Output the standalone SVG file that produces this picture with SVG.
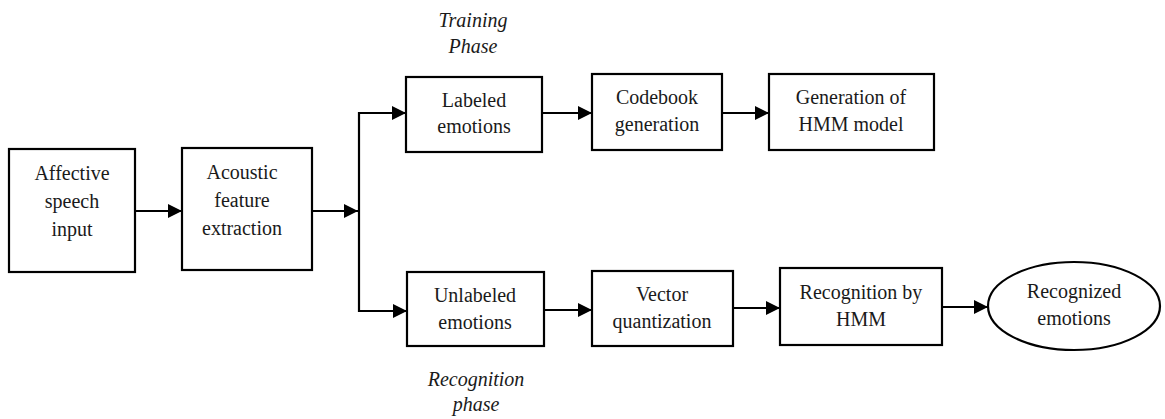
<svg xmlns="http://www.w3.org/2000/svg" width="1165" height="419" viewBox="0 0 1165 419" font-family="Liberation Serif, Tinos, Times New Roman, Times, DejaVu Serif, serif">
  <style>
    .box { fill: #fff; stroke: #000; stroke-width: 2.2; }
    .lbl { font-size: 20px; fill: #1a1a1a; text-anchor: middle; }
    .phase { font-size: 20px; font-style: italic; fill: #1a1a1a; text-anchor: middle; }
    .wire { fill: none; stroke: #000; stroke-width: 2.2; }
  </style>
  <defs>
    <marker id="head" markerUnits="userSpaceOnUse" markerWidth="14" markerHeight="14" viewBox="0 0 14 14" refX="14" refY="7" orient="auto">
      <path d="M0,0 L14,7 L0,14 Z" fill="#000"/>
    </marker>
  </defs>
  <rect width="1165" height="419" fill="#fff"/>

  <!-- phase captions -->
  <text class="phase" x="473" y="27">Training</text>
  <text class="phase" x="473" y="53">Phase</text>
  <text class="phase" x="476" y="386">Recognition</text>
  <text class="phase" x="476" y="411">phase</text>

  <g id="connectors">
    <line class="wire" x1="135" y1="211" x2="182" y2="211" marker-end="url(#head)"/>
    <line class="wire" x1="312" y1="211" x2="358" y2="211" marker-end="url(#head)"/>
    <polyline class="wire" points="406,113 359,113 359,311 407,311"/>
    <line class="wire" x1="359" y1="113" x2="406" y2="113" marker-end="url(#head)"/>
    <line class="wire" x1="359" y1="311" x2="407" y2="311" marker-end="url(#head)"/>
    <line class="wire" x1="542" y1="113" x2="592" y2="113" marker-end="url(#head)"/>
    <line class="wire" x1="722" y1="113" x2="769" y2="113" marker-end="url(#head)"/>
    <line class="wire" x1="544" y1="310" x2="592" y2="310" marker-end="url(#head)"/>
    <line class="wire" x1="733" y1="308" x2="780" y2="308" marker-end="url(#head)"/>
    <line class="wire" x1="942" y1="307" x2="988" y2="307" marker-end="url(#head)"/>
  </g>

  <g id="speech-input">
    <rect class="box" x="9" y="149" width="126" height="123"/>
    <text class="lbl" x="72" y="180">Affective</text>
    <text class="lbl" x="72" y="208">speech</text>
    <text class="lbl" x="72" y="236">input</text>
  </g>

  <g id="feature-extraction">
    <rect class="box" x="182" y="148" width="130" height="122"/>
    <text class="lbl" x="242" y="179">Acoustic</text>
    <text class="lbl" x="242" y="207">feature</text>
    <text class="lbl" x="242" y="235">extraction</text>
  </g>

  <g id="labeled-emotions">
    <rect class="box" x="406" y="77" width="136" height="75"/>
    <text class="lbl" x="474" y="107">Labeled</text>
    <text class="lbl" x="474" y="133">emotions</text>
  </g>

  <g id="codebook-generation">
    <rect class="box" x="592" y="74" width="130" height="76"/>
    <text class="lbl" x="657" y="104">Codebook</text>
    <text class="lbl" x="657" y="131">generation</text>
  </g>

  <g id="hmm-generation">
    <rect class="box" x="769" y="74" width="165" height="76"/>
    <text class="lbl" x="851" y="104">Generation of</text>
    <text class="lbl" x="851" y="131">HMM model</text>
  </g>

  <g id="unlabeled-emotions">
    <rect class="box" x="407" y="272" width="137" height="74"/>
    <text class="lbl" x="475" y="302">Unlabeled</text>
    <text class="lbl" x="475" y="329">emotions</text>
  </g>

  <g id="vector-quantization">
    <rect class="box" x="592" y="271" width="141" height="75"/>
    <text class="lbl" x="662" y="301">Vector</text>
    <text class="lbl" x="662" y="328">quantization</text>
  </g>

  <g id="hmm-recognition">
    <rect class="box" x="780" y="268" width="162" height="77"/>
    <text class="lbl" x="861" y="299">Recognition by</text>
    <text class="lbl" x="861" y="326">HMM</text>
  </g>

  <g id="recognized-emotions">
    <ellipse class="box" cx="1074" cy="306" rx="86" ry="44" stroke-width="1.6"/>
    <text class="lbl" x="1074" y="298">Recognized</text>
    <text class="lbl" x="1074" y="325">emotions</text>
  </g>
</svg>
